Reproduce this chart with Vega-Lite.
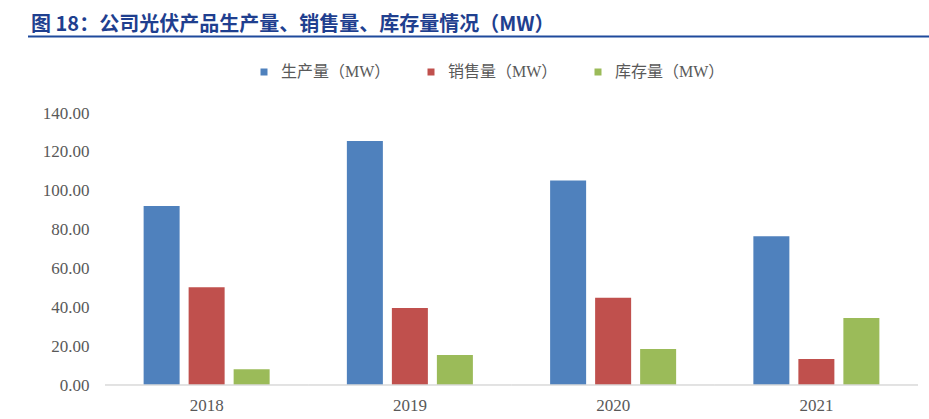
{
  "$schema": "https://vega.github.io/schema/vega-lite/v6.json",
  "width": 901,
  "height": 272,
  "autosize": {"type": "none"},
  "padding": {"left": 28, "top": 113, "right": 0, "bottom": 34},
  "background": "white",
  "title": {
    "text": "图 18：公司光伏产品生产量、销售量、库存量情况（MW）",
    "anchor": "start",
    "frame": "group",
    "dx": 3,
    "offset": 0,
    "font": "Noto Sans CJK SC",
    "fontSize": 20,
    "fontWeight": "bold",
    "color": "#1f3f8f"
  },
  "config": {
    "view": {"stroke": null},
    "axisX": {"title": null, "domain": false, "ticks": false, "grid": false, "labelPadding": 12, "labelAngle": 0,
              "labelFont": "Liberation Serif", "labelFontSize": 17, "labelColor": "#595959"},
    "axisY": {"title": null, "domain": false, "ticks": false, "grid": false, "labelPadding": 0, "offset": -61,
              "labelOverlap": false, "tickCount": 8,
              "labelFont": "Liberation Serif", "labelFontSize": 17, "labelColor": "#595959"}
  },
  "data": {
    "values": [
      {"year": "2018", "series": "生产量（MW）", "value": 92.1},
      {"year": "2018", "series": "销售量（MW）", "value": 50.3},
      {"year": "2018", "series": "库存量（MW）", "value": 8.1},
      {"year": "2019", "series": "生产量（MW）", "value": 125.6},
      {"year": "2019", "series": "销售量（MW）", "value": 39.6},
      {"year": "2019", "series": "库存量（MW）", "value": 15.4},
      {"year": "2020", "series": "生产量（MW）", "value": 105.3},
      {"year": "2020", "series": "销售量（MW）", "value": 44.9},
      {"year": "2020", "series": "库存量（MW）", "value": 18.5},
      {"year": "2021", "series": "生产量（MW）", "value": 76.5},
      {"year": "2021", "series": "销售量（MW）", "value": 13.4},
      {"year": "2021", "series": "库存量（MW）", "value": 34.5}
    ]
  },
  "layer": [
    {
      "mark": {"type": "bar"},
      "encoding": {
        "x": {
          "field": "year", "type": "nominal", "title": null,
          "scale": {"type": "band", "paddingInner": 0, "paddingOuter": 0.2165, "align": 0.875}
        },
        "xOffset": {
          "field": "series", "type": "nominal",
          "sort": ["生产量（MW）", "销售量（MW）", "库存量（MW）"],
          "scale": {"paddingInner": 0.2, "paddingOuter": 0.858}
        },
        "y": {
          "field": "value", "type": "quantitative", "title": null,
          "scale": {"domain": [0, 140], "nice": false},
          "axis": {"values": [0, 20, 40, 60, 80, 100, 120, 140], "format": ".2f"}
        },
        "color": {
          "field": "series", "type": "nominal",
          "sort": ["生产量（MW）", "销售量（MW）", "库存量（MW）"],
          "scale": {"domain": ["生产量（MW）", "销售量（MW）", "库存量（MW）"], "range": ["#4f81bd", "#c0504d", "#9bbb59"]},
          "legend": {
            "title": null, "orient": "none", "legendX": 228, "legendY": -49, "direction": "horizontal",
            "symbolType": "square", "symbolSize": 49, "symbolStrokeWidth": 0,
            "labelFont": "Liberation Serif, Noto Sans CJK SC", "labelFontSize": 16, "labelColor": "#595959",
            "labelOffset": 9, "columnPadding": 32, "labelLimit": 300, "padding": 0
          }
        }
      }
    },
    {
      "transform": [{"filter": "datum.series === '生产量（MW）'"}],
      "mark": {"type": "rect", "fill": null, "stroke": "#d9d9d9", "strokeWidth": 1},
      "encoding": {
        "x": {"field": "year", "type": "nominal", "title": null,
              "scale": {"type": "band", "paddingInner": 0, "paddingOuter": 0.2165, "align": 0.875}},
        "y": {"datum": 0, "type": "quantitative", "title": null, "scale": {"domain": [0, 140], "nice": false},
              "axis": {"values": [0, 20, 40, 60, 80, 100, 120, 140], "format": ".2f"}},
        "y2": {"datum": 0}
      }
    },
    {
      "data": {"values": [{"line": "header"}]},
      "mark": {"type": "rule", "color": "#1f4a9c", "strokeWidth": 2},
      "encoding": {
        "y": {"datum": 179.4, "type": "quantitative", "title": null, "scale": {"domain": [0, 140], "nice": false},
              "axis": {"values": [0, 20, 40, 60, 80, 100, 120, 140], "format": ".2f"}}
      }
    }
  ]
}
